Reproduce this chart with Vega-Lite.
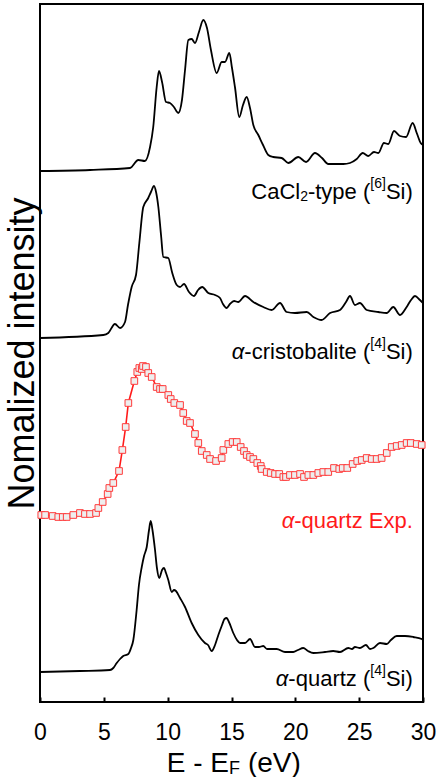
{
  "$schema": "https://vega.github.io/schema/vega-lite/v6.json",
  "width": 383,
  "height": 698,
  "autosize": {"type": "none"},
  "padding": {"left": 40, "top": 4, "right": 17, "bottom": 75},
  "config": {
    "font": "Liberation Sans",
    "view": {"stroke": "black", "strokeWidth": 2},
    "axis": {"grid": false},
    "text": {"fontWeight": "normal", "font": "Liberation Sans"}
  },
  "datasets": {
    "spectra": [
    {"series":"CaCl2","E":0.00,"I":531},{"series":"CaCl2","E":3.92,"I":532},{"series":"CaCl2","E":7.05,"I":534},{"series":"CaCl2","E":7.70,"I":542},{"series":"CaCl2","E":8.22,"I":541},{"series":"CaCl2","E":8.62,"I":555},{"series":"CaCl2","E":8.87,"I":575},{"series":"CaCl2","E":9.14,"I":615},{"series":"CaCl2","E":9.32,"I":631},{"series":"CaCl2","E":9.56,"I":620},{"series":"CaCl2","E":9.87,"I":600},{"series":"CaCl2","E":10.18,"I":599},{"series":"CaCl2","E":10.49,"I":595},{"series":"CaCl2","E":10.83,"I":589},{"series":"CaCl2","E":11.12,"I":602},{"series":"CaCl2","E":11.36,"I":632},{"series":"CaCl2","E":11.62,"I":662},{"series":"CaCl2","E":11.88,"I":663},{"series":"CaCl2","E":12.14,"I":659},{"series":"CaCl2","E":12.45,"I":670},{"series":"CaCl2","E":12.79,"I":682},{"series":"CaCl2","E":13.08,"I":674},{"series":"CaCl2","E":13.39,"I":652},{"series":"CaCl2","E":13.84,"I":629},{"series":"CaCl2","E":14.23,"I":640},{"series":"CaCl2","E":14.49,"I":640},{"series":"CaCl2","E":14.83,"I":649},{"series":"CaCl2","E":15.04,"I":634},{"series":"CaCl2","E":15.27,"I":615},{"series":"CaCl2","E":15.61,"I":585},{"series":"CaCl2","E":15.90,"I":597},{"series":"CaCl2","E":16.19,"I":605},{"series":"CaCl2","E":16.45,"I":594},{"series":"CaCl2","E":16.71,"I":577},{"series":"CaCl2","E":17.10,"I":567},{"series":"CaCl2","E":17.47,"I":557},{"series":"CaCl2","E":17.88,"I":547},{"series":"CaCl2","E":18.27,"I":545},{"series":"CaCl2","E":18.93,"I":544},{"series":"CaCl2","E":19.45,"I":539},{"series":"CaCl2","E":20.23,"I":545},{"series":"CaCl2","E":20.84,"I":540},{"series":"CaCl2","E":21.54,"I":549},{"series":"CaCl2","E":22.09,"I":544},{"series":"CaCl2","E":22.58,"I":538},{"series":"CaCl2","E":23.76,"I":538},{"series":"CaCl2","E":24.28,"I":539},{"series":"CaCl2","E":24.81,"I":543},{"series":"CaCl2","E":25.28,"I":549},{"series":"CaCl2","E":25.71,"I":546},{"series":"CaCl2","E":26.16,"I":550},{"series":"CaCl2","E":26.50,"I":549},{"series":"CaCl2","E":26.94,"I":559},{"series":"CaCl2","E":27.28,"I":558},{"series":"CaCl2","E":27.73,"I":571},{"series":"CaCl2","E":28.20,"I":566},{"series":"CaCl2","E":28.67,"I":565},{"series":"CaCl2","E":29.19,"I":579},{"series":"CaCl2","E":29.51,"I":569},{"series":"CaCl2","E":29.82,"I":559},{"series":"CaCl2","E":30.00,"I":557},
    {"series":"cristobalite","E":0.00,"I":364},{"series":"cristobalite","E":4.96,"I":367},{"series":"cristobalite","E":5.35,"I":369},{"series":"cristobalite","E":5.87,"I":378},{"series":"cristobalite","E":6.27,"I":374},{"series":"cristobalite","E":6.66,"I":380},{"series":"cristobalite","E":6.89,"I":397},{"series":"cristobalite","E":7.18,"I":415},{"series":"cristobalite","E":7.52,"I":427},{"series":"cristobalite","E":7.78,"I":459},{"series":"cristobalite","E":8.09,"I":495},{"series":"cristobalite","E":8.48,"I":504},{"series":"cristobalite","E":8.69,"I":510},{"series":"cristobalite","E":8.93,"I":516},{"series":"cristobalite","E":9.09,"I":510},{"series":"cristobalite","E":9.27,"I":495},{"series":"cristobalite","E":9.48,"I":467},{"series":"cristobalite","E":9.66,"I":445},{"series":"cristobalite","E":10.05,"I":444},{"series":"cristobalite","E":10.34,"I":430},{"series":"cristobalite","E":10.71,"I":417},{"series":"cristobalite","E":10.97,"I":415},{"series":"cristobalite","E":11.28,"I":418},{"series":"cristobalite","E":11.67,"I":410},{"series":"cristobalite","E":12.06,"I":406},{"series":"cristobalite","E":12.38,"I":412},{"series":"cristobalite","E":12.71,"I":415},{"series":"cristobalite","E":13.18,"I":409},{"series":"cristobalite","E":13.71,"I":407},{"series":"cristobalite","E":14.10,"I":404},{"series":"cristobalite","E":14.33,"I":398},{"series":"cristobalite","E":14.62,"I":394},{"series":"cristobalite","E":14.88,"I":398},{"series":"cristobalite","E":15.20,"I":401},{"series":"cristobalite","E":15.53,"I":400},{"series":"cristobalite","E":16.06,"I":406},{"series":"cristobalite","E":16.71,"I":400},{"series":"cristobalite","E":17.49,"I":395},{"series":"cristobalite","E":18.15,"I":392},{"series":"cristobalite","E":18.80,"I":399},{"series":"cristobalite","E":19.32,"I":390},{"series":"cristobalite","E":19.97,"I":389},{"series":"cristobalite","E":20.89,"I":390},{"series":"cristobalite","E":21.41,"I":385},{"series":"cristobalite","E":22.06,"I":382},{"series":"cristobalite","E":22.72,"I":389},{"series":"cristobalite","E":23.50,"I":392},{"series":"cristobalite","E":23.97,"I":400},{"series":"cristobalite","E":24.28,"I":406},{"series":"cristobalite","E":24.67,"I":397},{"series":"cristobalite","E":25.06,"I":399},{"series":"cristobalite","E":25.59,"I":392},{"series":"cristobalite","E":26.50,"I":390},{"series":"cristobalite","E":27.16,"I":389},{"series":"cristobalite","E":27.67,"I":395},{"series":"cristobalite","E":28.20,"I":387},{"series":"cristobalite","E":28.72,"I":395},{"series":"cristobalite","E":29.06,"I":402},{"series":"cristobalite","E":29.37,"I":406},{"series":"cristobalite","E":29.76,"I":402},{"series":"cristobalite","E":30.00,"I":399},
    {"series":"exp","E":0.10,"I":187},{"series":"exp","E":0.40,"I":187},{"series":"exp","E":0.99,"I":186},{"series":"exp","E":1.43,"I":185},{"series":"exp","E":1.78,"I":185},{"series":"exp","E":2.09,"I":185},{"series":"exp","E":2.61,"I":187},{"series":"exp","E":3.13,"I":189},{"series":"exp","E":3.52,"I":188},{"series":"exp","E":3.92,"I":188},{"series":"exp","E":4.39,"I":189},{"series":"exp","E":4.57,"I":194},{"series":"exp","E":4.91,"I":200},{"series":"exp","E":5.30,"I":208},{"series":"exp","E":5.43,"I":214},{"series":"exp","E":5.74,"I":219},{"series":"exp","E":6.19,"I":231},{"series":"exp","E":6.45,"I":252},{"series":"exp","E":6.71,"I":275},{"series":"exp","E":6.92,"I":299},{"series":"exp","E":7.39,"I":321},{"series":"exp","E":7.62,"I":330},{"series":"exp","E":7.78,"I":334},{"series":"exp","E":7.97,"I":333},{"series":"exp","E":8.07,"I":336},{"series":"exp","E":8.30,"I":335},{"series":"exp","E":8.48,"I":329},{"series":"exp","E":8.75,"I":325},{"series":"exp","E":9.14,"I":315},{"series":"exp","E":9.40,"I":313},{"series":"exp","E":9.61,"I":313},{"series":"exp","E":10.05,"I":307},{"series":"exp","E":10.24,"I":303},{"series":"exp","E":10.52,"I":299},{"series":"exp","E":10.97,"I":297},{"series":"exp","E":11.22,"I":289},{"series":"exp","E":11.49,"I":281},{"series":"exp","E":11.75,"I":279},{"series":"exp","E":12.14,"I":268},{"series":"exp","E":12.40,"I":259},{"series":"exp","E":12.67,"I":251},{"series":"exp","E":13.06,"I":247},{"series":"exp","E":13.32,"I":243},{"series":"exp","E":13.79,"I":241},{"series":"exp","E":14.23,"I":244},{"series":"exp","E":14.36,"I":252},{"series":"exp","E":14.75,"I":258},{"series":"exp","E":15.09,"I":260},{"series":"exp","E":15.41,"I":260},{"series":"exp","E":15.72,"I":255},{"series":"exp","E":15.98,"I":251},{"series":"exp","E":16.19,"I":247},{"series":"exp","E":16.45,"I":245},{"series":"exp","E":16.71,"I":243},{"series":"exp","E":17.02,"I":239},{"series":"exp","E":17.29,"I":236},{"series":"exp","E":17.36,"I":233},{"series":"exp","E":17.76,"I":230},{"series":"exp","E":18.07,"I":229},{"series":"exp","E":18.41,"I":228},{"series":"exp","E":18.74,"I":228},{"series":"exp","E":19.06,"I":225},{"series":"exp","E":19.27,"I":225},{"series":"exp","E":19.58,"I":227},{"series":"exp","E":19.97,"I":227},{"series":"exp","E":20.37,"I":228},{"series":"exp","E":20.68,"I":225},{"series":"exp","E":21.02,"I":227},{"series":"exp","E":21.41,"I":227},{"series":"exp","E":21.80,"I":229},{"series":"exp","E":22.19,"I":230},{"series":"exp","E":22.58,"I":230},{"series":"exp","E":23.03,"I":234},{"series":"exp","E":23.44,"I":233},{"series":"exp","E":23.71,"I":234},{"series":"exp","E":24.07,"I":234},{"series":"exp","E":24.49,"I":238},{"series":"exp","E":24.85,"I":241},{"series":"exp","E":25.20,"I":242},{"series":"exp","E":25.59,"I":244},{"series":"exp","E":25.98,"I":243},{"series":"exp","E":26.37,"I":243},{"series":"exp","E":26.76,"I":244},{"series":"exp","E":27.16,"I":249},{"series":"exp","E":27.55,"I":255},{"series":"exp","E":27.94,"I":256},{"series":"exp","E":28.33,"I":257},{"series":"exp","E":28.72,"I":259},{"series":"exp","E":29.04,"I":259},{"series":"exp","E":29.51,"I":258},{"series":"exp","E":29.90,"I":257},
    {"series":"quartz","E":0.00,"I":30},{"series":"quartz","E":3.13,"I":31},{"series":"quartz","E":5.48,"I":32},{"series":"quartz","E":5.74,"I":34},{"series":"quartz","E":6.01,"I":39},{"series":"quartz","E":6.27,"I":43},{"series":"quartz","E":6.52,"I":46},{"series":"quartz","E":6.92,"I":48},{"series":"quartz","E":7.13,"I":54},{"series":"quartz","E":7.31,"I":62},{"series":"quartz","E":7.57,"I":92},{"series":"quartz","E":7.75,"I":117},{"series":"quartz","E":7.97,"I":135},{"series":"quartz","E":8.15,"I":146},{"series":"quartz","E":8.36,"I":155},{"series":"quartz","E":8.54,"I":172},{"series":"quartz","E":8.67,"I":181},{"series":"quartz","E":8.81,"I":172},{"series":"quartz","E":9.01,"I":152},{"series":"quartz","E":9.16,"I":134},{"series":"quartz","E":9.34,"I":124},{"series":"quartz","E":9.56,"I":132},{"series":"quartz","E":9.71,"I":134},{"series":"quartz","E":9.87,"I":129},{"series":"quartz","E":10.05,"I":122},{"series":"quartz","E":10.32,"I":110},{"series":"quartz","E":10.50,"I":112},{"series":"quartz","E":10.65,"I":111},{"series":"quartz","E":10.97,"I":104},{"series":"quartz","E":11.36,"I":95},{"series":"quartz","E":11.88,"I":79},{"series":"quartz","E":12.40,"I":67},{"series":"quartz","E":12.92,"I":59},{"series":"quartz","E":13.16,"I":57},{"series":"quartz","E":13.45,"I":51},{"series":"quartz","E":13.71,"I":57},{"series":"quartz","E":13.97,"I":67},{"series":"quartz","E":14.26,"I":77},{"series":"quartz","E":14.45,"I":83},{"series":"quartz","E":14.62,"I":84},{"series":"quartz","E":14.80,"I":80},{"series":"quartz","E":15.14,"I":69},{"series":"quartz","E":15.43,"I":62},{"series":"quartz","E":15.67,"I":59},{"series":"quartz","E":16.06,"I":59},{"series":"quartz","E":16.45,"I":63},{"series":"quartz","E":16.84,"I":55},{"series":"quartz","E":17.15,"I":55},{"series":"quartz","E":17.49,"I":56},{"series":"quartz","E":17.78,"I":53},{"series":"quartz","E":18.02,"I":53},{"series":"quartz","E":18.54,"I":53},{"series":"quartz","E":19.19,"I":50},{"series":"quartz","E":19.84,"I":50},{"series":"quartz","E":20.21,"I":52},{"series":"quartz","E":20.62,"I":54},{"series":"quartz","E":20.99,"I":51},{"series":"quartz","E":21.41,"I":49},{"series":"quartz","E":22.32,"I":50},{"series":"quartz","E":22.97,"I":51},{"series":"quartz","E":23.50,"I":50},{"series":"quartz","E":24.15,"I":54},{"series":"quartz","E":24.44,"I":53},{"series":"quartz","E":24.67,"I":55},{"series":"quartz","E":25.06,"I":54},{"series":"quartz","E":25.53,"I":57},{"series":"quartz","E":25.85,"I":53},{"series":"quartz","E":26.11,"I":54},{"series":"quartz","E":26.63,"I":59},{"series":"quartz","E":27.16,"I":58},{"series":"quartz","E":27.49,"I":62},{"series":"quartz","E":27.94,"I":66},{"series":"quartz","E":28.59,"I":66},{"series":"quartz","E":29.24,"I":65},{"series":"quartz","E":29.90,"I":63},{"series":"quartz","E":30.00,"I":62}
    ],
    "one": [{}]
  },
  "layer": [
    {
      "data": {"name": "spectra"},
      "transform": [{"filter": "datum.series !== 'exp'"}],
      "mark": {"type": "line", "color": "black", "strokeWidth": 1.8, "interpolate": "monotone"},
      "encoding": {
        "x": {"field": "E", "type": "quantitative", "scale": {"domain": [0, 30], "nice": false, "zero": false},
          "axis": {"title": null, "values": [0,2.5,5,7.5,10,12.5,15,17.5,20,22.5,25,27.5,30],
            "labelExpr": "datum.value % 5 === 0 ? format(datum.value, 'd') : ''",
            "tickSize": -5, "tickWidth": 2, "tickColor": "black", "domain": false,
            "labelFontSize": 23, "labelColor": "black", "labelPadding": 24, "labelFont": "Liberation Sans",
            "labelFlush": false, "labelOverlap": false}},
        "y": {"field": "I", "type": "quantitative", "scale": {"domain": [0, 698], "nice": false, "zero": false},
          "axis": {"title": "Nomalized intensity", "titleFontSize": 36, "titleFont": "Liberation Sans", "titleFontWeight": "normal",
            "titleColor": "black", "titlePadding": -1, "labels": false, "ticks": false, "domain": false}},
        "detail": {"field": "series", "type": "nominal"}
      }
    },
    {
      "data": {"name": "spectra"},
      "transform": [{"filter": "datum.series === 'exp'"}],
      "mark": {"type": "line", "color": "#ff1a1a", "strokeWidth": 1.6},
      "encoding": {
        "x": {"field": "E", "type": "quantitative", "scale": {"domain": [0, 30]}},
        "y": {"field": "I", "type": "quantitative", "scale": {"domain": [0, 698]}}
      }
    },
    {
      "data": {"name": "spectra"},
      "transform": [{"filter": "datum.series === 'exp'"}],
      "mark": {"type": "point", "shape": "square", "size": 44, "filled": false, "fill": "#eeeeee", "fillOpacity": 1, "stroke": "#ff3b3b", "strokeWidth": 1, "opacity": 1},
      "encoding": {
        "x": {"field": "E", "type": "quantitative", "scale": {"domain": [0, 30]}},
        "y": {"field": "I", "type": "quantitative", "scale": {"domain": [0, 698]}}
      }
    },
    {"data": {"name": "one"}, "mark": {"type": "text", "text": "Si)", "align": "right", "fontSize": 22, "fill": "black"},
     "encoding": {"x": {"datum": 29.2, "type": "quantitative", "scale": {"domain": [0, 30]}}, "y": {"datum": 510, "type": "quantitative", "scale": {"domain": [0, 698]}}}},
    {"data": {"name": "one"}, "mark": {"type": "text", "text": "[6]", "align": "right", "fontSize": 14, "dx": -26.9, "dy": -8, "fill": "black"},
     "encoding": {"x": {"datum": 29.2, "type": "quantitative", "scale": {"domain": [0, 30]}}, "y": {"datum": 510, "type": "quantitative", "scale": {"domain": [0, 698]}}}},
    {"data": {"name": "one"}, "mark": {"type": "text", "text": "-type (", "align": "right", "fontSize": 22, "dx": -42.5, "fill": "black"},
     "encoding": {"x": {"datum": 29.2, "type": "quantitative", "scale": {"domain": [0, 30]}}, "y": {"datum": 510, "type": "quantitative", "scale": {"domain": [0, 698]}}}},
    {"data": {"name": "one"}, "mark": {"type": "text", "text": "2", "align": "right", "fontSize": 14, "dx": -104.8, "dy": 5, "fill": "black"},
     "encoding": {"x": {"datum": 29.2, "type": "quantitative", "scale": {"domain": [0, 30]}}, "y": {"datum": 510, "type": "quantitative", "scale": {"domain": [0, 698]}}}},
    {"data": {"name": "one"}, "mark": {"type": "text", "text": "CaCl", "align": "right", "fontSize": 22, "dx": -112.6, "fill": "black"},
     "encoding": {"x": {"datum": 29.2, "type": "quantitative", "scale": {"domain": [0, 30]}}, "y": {"datum": 510, "type": "quantitative", "scale": {"domain": [0, 698]}}}},
    {"data": {"name": "one"}, "mark": {"type": "text", "text": "Si)", "align": "right", "fontSize": 22, "fill": "black"},
     "encoding": {"x": {"datum": 29.2, "type": "quantitative", "scale": {"domain": [0, 30]}}, "y": {"datum": 350, "type": "quantitative", "scale": {"domain": [0, 698]}}}},
    {"data": {"name": "one"}, "mark": {"type": "text", "text": "[4]", "align": "right", "fontSize": 14, "dx": -26.9, "dy": -8, "fill": "black"},
     "encoding": {"x": {"datum": 29.2, "type": "quantitative", "scale": {"domain": [0, 30]}}, "y": {"datum": 350, "type": "quantitative", "scale": {"domain": [0, 698]}}}},
    {"data": {"name": "one"}, "mark": {"type": "text", "text": "-cristobalite (", "align": "right", "fontSize": 22, "dx": -42.5, "fill": "black"},
     "encoding": {"x": {"datum": 29.2, "type": "quantitative", "scale": {"domain": [0, 30]}}, "y": {"datum": 350, "type": "quantitative", "scale": {"domain": [0, 698]}}}},
    {"data": {"name": "one"}, "mark": {"type": "text", "text": "α", "align": "right", "fontSize": 22, "fontStyle": "italic", "dx": -168.4, "fill": "black"},
     "encoding": {"x": {"datum": 29.2, "type": "quantitative", "scale": {"domain": [0, 30]}}, "y": {"datum": 350, "type": "quantitative", "scale": {"domain": [0, 698]}}}},
    {"data": {"name": "one"}, "mark": {"type": "text", "text": "-quartz Exp.", "align": "right", "fontSize": 22, "fill": "#ff1a1a"},
     "encoding": {"x": {"datum": 29.2, "type": "quantitative", "scale": {"domain": [0, 30]}}, "y": {"datum": 181, "type": "quantitative", "scale": {"domain": [0, 698]}}}},
    {"data": {"name": "one"}, "mark": {"type": "text", "text": "α", "align": "right", "fontSize": 22, "fontStyle": "italic", "dx": -118.6, "fill": "#ff1a1a"},
     "encoding": {"x": {"datum": 29.2, "type": "quantitative", "scale": {"domain": [0, 30]}}, "y": {"datum": 181, "type": "quantitative", "scale": {"domain": [0, 698]}}}},
    {"data": {"name": "one"}, "mark": {"type": "text", "text": "Si)", "align": "right", "fontSize": 22, "fill": "black"},
     "encoding": {"x": {"datum": 29.2, "type": "quantitative", "scale": {"domain": [0, 30]}}, "y": {"datum": 23, "type": "quantitative", "scale": {"domain": [0, 698]}}}},
    {"data": {"name": "one"}, "mark": {"type": "text", "text": "[4]", "align": "right", "fontSize": 14, "dx": -26.9, "dy": -8, "fill": "black"},
     "encoding": {"x": {"datum": 29.2, "type": "quantitative", "scale": {"domain": [0, 30]}}, "y": {"datum": 23, "type": "quantitative", "scale": {"domain": [0, 698]}}}},
    {"data": {"name": "one"}, "mark": {"type": "text", "text": "-quartz (", "align": "right", "fontSize": 22, "dx": -42.5, "fill": "black"},
     "encoding": {"x": {"datum": 29.2, "type": "quantitative", "scale": {"domain": [0, 30]}}, "y": {"datum": 23, "type": "quantitative", "scale": {"domain": [0, 698]}}}},
    {"data": {"name": "one"}, "mark": {"type": "text", "text": "α", "align": "right", "fontSize": 22, "fontStyle": "italic", "dx": -124.4, "fill": "black"},
     "encoding": {"x": {"datum": 29.2, "type": "quantitative", "scale": {"domain": [0, 30]}}, "y": {"datum": 23, "type": "quantitative", "scale": {"domain": [0, 698]}}}},
    {"data": {"name": "one"}, "mark": {"type": "text", "text": "E - E", "align": "right", "fontSize": 28, "fill": "black"},
     "encoding": {"x": {"datum": 14.8, "type": "quantitative", "scale": {"domain": [0, 30]}}, "y": {"datum": -62, "type": "quantitative", "scale": {"domain": [0, 698]}}}},
    {"data": {"name": "one"}, "mark": {"type": "text", "text": "F", "align": "left", "fontSize": 18, "dy": 5, "fill": "black"},
     "encoding": {"x": {"datum": 14.8, "type": "quantitative", "scale": {"domain": [0, 30]}}, "y": {"datum": -62, "type": "quantitative", "scale": {"domain": [0, 698]}}}},
    {"data": {"name": "one"}, "mark": {"type": "text", "text": "(eV)", "align": "left", "fontSize": 28, "dx": 19, "fill": "black"},
     "encoding": {"x": {"datum": 14.8, "type": "quantitative", "scale": {"domain": [0, 30]}}, "y": {"datum": -62, "type": "quantitative", "scale": {"domain": [0, 698]}}}}
  ]
}
